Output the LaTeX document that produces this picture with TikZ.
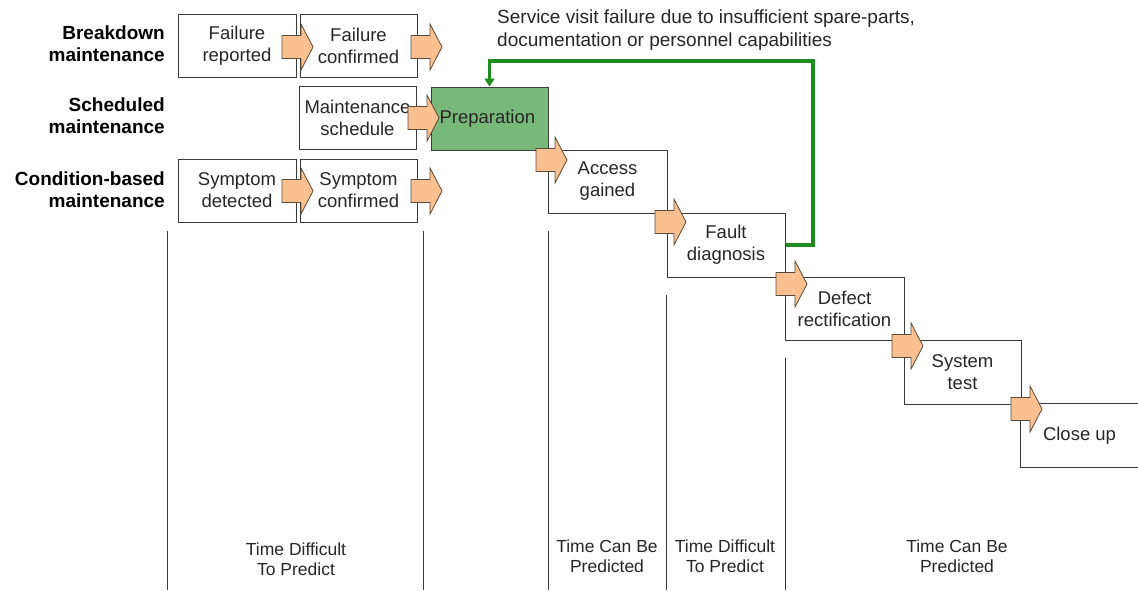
\documentclass[tikz,border=0pt]{standalone}
\usepackage{fontspec}
\setmainfont{Liberation Sans}
\usetikzlibrary{arrows.meta}
\definecolor{linegray}{HTML}{3A3A3A}
\definecolor{arrfill}{HTML}{FAC08F}
\definecolor{arrline}{HTML}{5A4A3A}
\definecolor{prepgreen}{HTML}{78B878}
\definecolor{loopgreen}{HTML}{1E8C1E}
\tikzset{
  boxtext/.style={font=\fontsize{18.5}{22}\selectfont, align=center, text=black!85},
  procbox/.style={boxtext, draw=linegray, line width=1pt, minimum width=118pt, minimum height=63pt, inner sep=0pt},
  openbox/.style={boxtext, minimum width=118pt, minimum height=63pt, inner sep=0pt},
  rowlabel/.style={font=\fontsize{19}{22}\selectfont\bfseries, align=right, anchor=east, inner sep=0pt},
  zonelabel/.style={font=\fontsize{17.5}{20}\selectfont, align=center, inner sep=0pt, text=black!85},
  divider/.style={draw=linegray, line width=1pt},
  blkarrow/.style={fill=arrfill, draw=arrline, line width=0.8pt, line join=miter},
  loop/.style={draw=loopgreen, line width=3.2pt, -{Triangle[length=8pt,width=10pt]}},
}
\newcommand\orangearrow[3]{%
  \coordinate (#1) at (#2,#3);
  \path[blkarrow] ({#2-31},{#3-11.5}) -- ({#2-12},{#3-11.5}) -- ({#2-12},{#3-23})
    -- (#1) -- ({#2-12},{#3+23}) -- ({#2-12},{#3+11.5}) -- ({#2-31},{#3+11.5}) -- cycle;
}
\begin{document}
\begin{tikzpicture}[x=1pt,y=-1pt]
\useasboundingbox (0,0) rectangle (1138,590);

% row labels
\node[rowlabel] (lb) at (165,44) {Breakdown\\maintenance};
\node[rowlabel] (ls) at (165,115.5) {Scheduled\\maintenance};
\node[rowlabel] (lc) at (165,190) {Condition-based\\maintenance};

% dividers
\draw[divider] (167,231) -- (167,590);
\draw[divider] (423,231) -- (423,590);
\draw[divider] (548,231) -- (548,590);
\draw[divider] (666.5,295) -- (666.5,590);
\draw[divider] (785,358) -- (785,590);

% boxes
\node[procbox] (fr) at (237,45.5) {Failure\\reported};
\node[procbox, minimum width=117pt] (fc) at (358.5,45.5) {Failure\\confirmed};
\node[procbox, minimum width=117pt] (ms) at (357.5,118) {Maintenance\\schedule};
\node[procbox, minimum width=117pt, fill=prepgreen, text width=100pt, align=left, inner xsep=8.5pt] (prep) at (489.5,118.5) {Preparation};
\node[procbox] (sd) at (237,190.5) {Symptom\\detected};
\node[procbox, minimum width=117pt] (sc) at (358.5,190.5) {Symptom\\confirmed};
\node[procbox, minimum width=119pt] (ag) at (607.5,181.5) {Access\\gained};
\node[procbox, minimum height=64pt] (fd) at (726,245) {Fault\\diagnosis};
\node[procbox, minimum width=119pt] (dr) at (844.5,308.5) {Defect\\rectification};
\node[procbox, minimum width=117pt, minimum height=64pt] (st) at (962.5,372) {System\\test};
\node[openbox, minimum width=117pt] (cu) at (1079.5,435.5) {Close up};
\draw[divider] (cu.north east) -- (cu.north west) -- (cu.south west) -- (cu.south east);

% orange block arrows
\orangearrow{a1}{313}{47}
\orangearrow{a2}{442}{47}
\orangearrow{a3}{439}{118}
\orangearrow{a4}{313}{191}
\orangearrow{a5}{442}{191}
\orangearrow{a6}{567}{160}
\orangearrow{a7}{686}{222}
\orangearrow{a8}{807}{284}
\orangearrow{a9}{923}{346}
\orangearrow{a10}{1042}{409}

% feedback loop
\node[boxtext, align=left, anchor=north west, inner sep=0pt, font=\fontsize{19}{23}\selectfont] (note) at (497,10)
  {Service visit failure due to insufficient spare-parts,\\documentation or personnel capabilities};
\coordinate (gc) at (813,61);
\draw[loop] (fd.east) -| (gc) -| (prep.north);

% zone labels
\node[zonelabel] (z1) at (296,559) {Time Difficult\\To Predict};
\node[zonelabel] (z2) at (607,556) {Time Can Be\\Predicted};
\node[zonelabel] (z3) at (725,556) {Time Difficult\\To Predict};
\node[zonelabel] (z4) at (957,556) {Time Can Be\\Predicted};
\end{tikzpicture}
\end{document}
